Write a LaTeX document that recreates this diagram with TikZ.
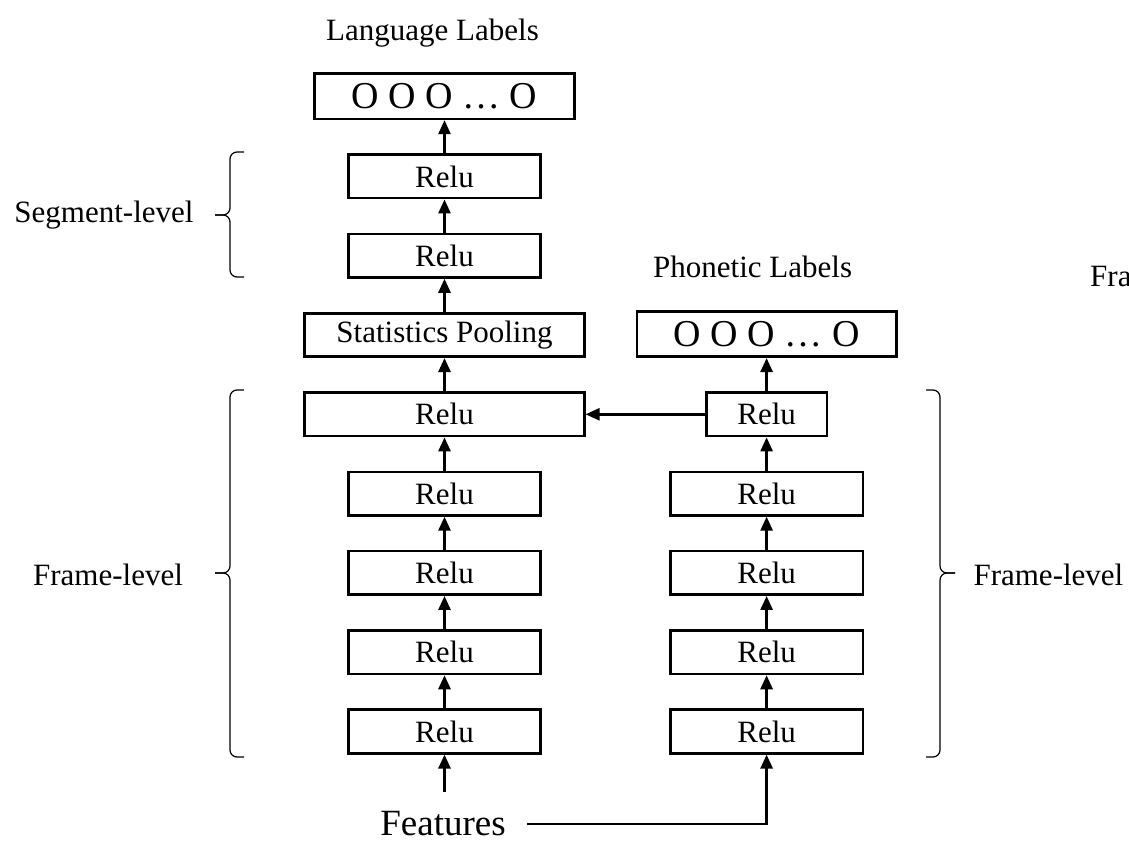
\documentclass[tikz,border=0pt]{standalone}
\usepackage{fontspec}
\setmainfont{Liberation Serif}
\usetikzlibrary{positioning,arrows.meta}

\begin{document}
\begin{tikzpicture}[x=1pt,y=-1pt,>={Triangle[length=14pt,width=12pt]},
   node distance=33.2pt,font=\fontsize{31}{36}\selectfont,
   layer/.style={draw,line width=2.6pt,minimum width=192.5pt,minimum height=43.5pt,inner sep=0pt},
   wide/.style={layer,minimum width=279.5pt},
   outbox/.style={layer,minimum width=259.5pt,minimum height=45.5pt,font=\fontsize{38}{40}\selectfont},
   flow/.style={->,line width=2.6pt},
   lvl/.style={line width=1.2pt,rounded corners=7pt}]
  \useasboundingbox (0,0) rectangle (1129,842);
  % language branch
  \node[layer] (f1) at (444.5,731.5) {Relu};
  \node[layer] (f2) [above=of f1] {Relu};
  \node[layer] (f3) [above=of f2] {Relu};
  \node[layer] (f4) [above=of f3] {Relu};
  \node[wide]  (f5) [above=of f4] {Relu};
  \node[wide]  (pool) [above=of f5] {Statistics Pooling};
  \node[layer] (s1) [above=of pool] {Relu};
  \node[layer] (s2) [above=of s1] {Relu};
  \node[outbox] (lang) [above=of s2] {O O O … O};
  \node[inner sep=0pt,xshift=-12pt] (langlab) [above=25pt of lang] {Language Labels};
  % phonetic branch
  \node[layer] (p1) [right=127pt of f1] {Relu};
  \node[layer] (p2) [above=of p1] {Relu};
  \node[layer] (p3) [above=of p2] {Relu};
  \node[layer] (p4) [above=of p3] {Relu};
  \node[layer,minimum width=120.5pt] (p5) [above=of p4] {Relu};
  \node[outbox] (phon) [above=of p5] {O O O … O};
  \node[inner sep=0pt,xshift=-14pt] (phonlab) [above=32pt of phon] {Phonetic Labels};
  % input
  \node[font=\fontsize{37}{40}\selectfont] (feat) at (443,824) {Features};
  \coordinate (in) at (444.5,792);
  \path[flow]
   (in) edge (f1)
   (f1) edge (f2) (f2) edge (f3) (f3) edge (f4) (f4) edge (f5)
   (f5) edge (pool) (pool) edge (s1) (s1) edge (s2) (s2) edge (lang)
   (p1) edge (p2) (p2) edge (p3) (p3) edge (p4) (p4) edge (p5)
   (p5) edge (phon)
   (p5) edge (f5);
  \draw[flow] ([xshift=18pt]feat.east) -| (p1);
  % level braces
  \draw[lvl] (244,152) -| (230,215) -- (215,215);
  \draw[lvl] (215,215) -- (230,215) |- (244,277);
  \draw[lvl] (244,390) -| (230,573) -- (215,573);
  \draw[lvl] (215,573) -- (230,573) |- (244,757);
  \draw[lvl] (926,390) -| (940,573) -- (955,573);
  \draw[lvl] (955,573) -- (940,573) |- (926,757);
  \node (seglab) at (104,215) {Segment-level};
  \node (framel) at (108,575) {Frame-level};
  \node[anchor=west] (framer) at (970,575) {Frame-level};
  \node[anchor=base west,inner sep=0pt] (cut) at (1090,287) {Fra};
\end{tikzpicture}
\end{document}
